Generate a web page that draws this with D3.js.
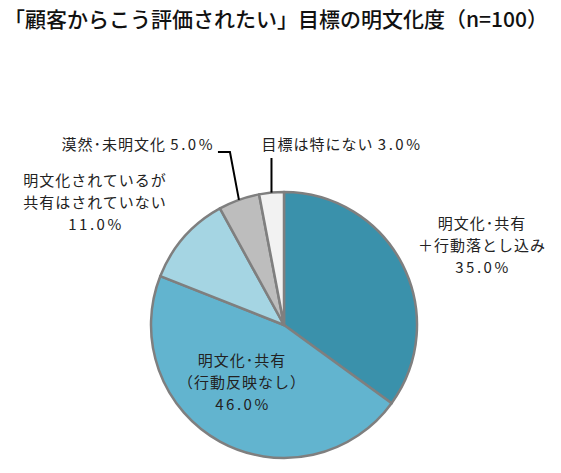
<!DOCTYPE html>
<html>
<head>
<meta charset="utf-8">
<script src="https://cdn.jsdelivr.net/npm/d3@7"></script>
<style>
  body { margin: 0; background: #fff; }
  text { font-family: "Noto Sans CJK JP", sans-serif; }
</style>
</head>
<body>
<div class="canvas"></div>
<script>
const width = 561;
const height = 473;

// data
const categories = ["明文化･共有＋行動落とし込み", "明文化･共有（行動反映なし）", "明文化されているが共有はされていない", "漠然･未明文化", "目標は特にない"]
const values = [35.0, 46.0, 11.0, 5.0, 3.0]
const labelLines = [
    ["明文化･共有", "＋行動落とし込み"],
    ["明文化･共有", "（行動反映なし）"],
    ["明文化されているが", "共有はされていない"],
    ["漠然･未明文化"],
    ["目標は特にない"]
]
const colors = ["#3a91ab", "#62b4cf", "#a5d5e3", "#bdbdbd", "#f2f2f2"]

const cx = 284, cy = 325, radius = 133
const fs = 15

const svg = d3.select(".canvas")
                .append("svg")
                .attr("width", width)
                .attr("height", height)

svg.append("text")
    .attr("x", 4)
    .attr("y", 27)
    .attr("font-size", 21)
    .attr("font-weight", 500)
    .attr("fill", "#111")
    .text("「顧客からこう評価されたい」目標の明文化度（n=100）")

const graph = svg.append("g")
                .attr("transform", `translate(${cx}, ${cy})`)

const pie = d3.pie().sort(null).value(d => d)
const arcs = pie(values)
const arc = d3.arc().innerRadius(0).outerRadius(radius)

graph.selectAll("path")
    .data(arcs)
    .enter()
    .append("path")
    .attr("d", arc)
    .attr("fill", (d, i) => colors[i])
    .attr("stroke", "#7f7f7f")
    .attr("stroke-width", 2.5)
    .attr("stroke-linejoin", "round")

const fmt = v => v.toFixed(1) + "%"
const outer = a => [radius * Math.sin(a), -radius * Math.cos(a)]
const mid = d => (d.startAngle + d.endAngle) / 2
const pct = (t, v) => t.append("tspan").attr("letter-spacing", 2.5).text(fmt(v))

// multi-line labels: [x, first baseline] relative to center
const blockPos = [[198, -96], [-42, 41], [-189, -139]]
const lh = 21.8
blockPos.forEach((p, i) => {
    const t = graph.append("text")
        .attr("text-anchor", "middle")
        .attr("font-size", fs)
        .attr("fill", "#222")
    labelLines[i].forEach((s, j) => {
        t.append("tspan")
            .attr("x", p[0])
            .attr("y", p[1] + j * lh)
            .attr("letter-spacing", 1)
            .text(s)
    })
    t.append("tspan")
        .attr("x", p[0] + 1)
        .attr("y", p[1] + labelLines[i].length * lh)
        .attr("letter-spacing", 2.5)
        .text(fmt(values[i]))
})

// small slices with leader lines
const lineStyle = sel => sel.attr("fill", "none").attr("stroke", "#000").attr("stroke-width", 2)

const [x5, y5] = outer(mid(arcs[3]))
graph.append("path")
    .attr("d", d3.line()([[x5, y5], [x5 - 9, -173], [x5 - 21, -173]]))
    .call(lineStyle)
const t5 = graph.append("text")
    .attr("x", x5 - 24)
    .attr("y", -175)
    .attr("text-anchor", "end")
    .attr("font-size", fs)
    .attr("fill", "#222")
t5.append("tspan").attr("letter-spacing", 1).text(labelLines[3][0] + " ")
pct(t5, values[3])

const [x3, y3] = outer(mid(arcs[4]))
graph.append("path")
    .attr("d", d3.line()([[x3, y3], [x3, -167]]))
    .call(lineStyle)
const t3 = graph.append("text")
    .attr("x", x3 - 10)
    .attr("y", -175)
    .attr("text-anchor", "start")
    .attr("font-size", fs)
    .attr("fill", "#222")
t3.append("tspan").attr("letter-spacing", 1).text(labelLines[4][0] + " ")
pct(t3, values[4])
</script>
</body>
</html>
